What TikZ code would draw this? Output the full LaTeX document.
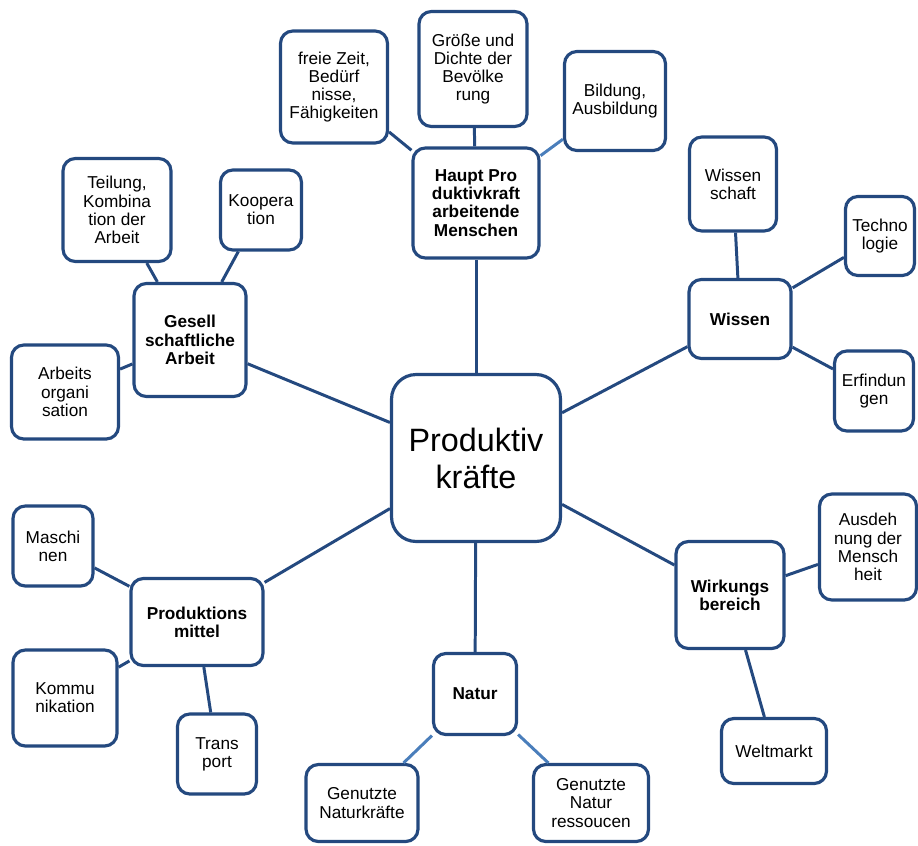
\documentclass[tikz,border=0pt]{standalone}
\usepackage{fontspec}
\setmainfont{Liberation Sans}
\usetikzlibrary{positioning}
\definecolor{mlnavy}{HTML}{24497F}
\definecolor{mllight}{HTML}{4A7EBB}

\begin{document}
\begin{tikzpicture}[
  x=0.02cm, y=-0.02cm,
  bx/.style={draw=mlnavy,line width=1.8pt,rounded corners=7pt,fill=white,
             align=center,inner sep=1pt,
             font=\fontsize{9.8}{10.4}\selectfont},
  hub/.style={bx,font=\fontsize{9.8}{10.4}\selectfont\bfseries},
  core/.style={bx,rounded corners=14pt,font=\fontsize{18.4}{21}\selectfont},
  link/.style={mlnavy,line width=1.7pt},
  lite/.style={mllight,line width=1.7pt}
]
\useasboundingbox (0,0) rectangle (918,845);

% ---- Centre --------------------------------------------------
\node[core,minimum width=3.38cm,minimum height=3.34cm] (pk) at (476,458)
  {Produktiv\\kräfte};

% ---- Hauptproduktivkraft -------------------------------------
\node[hub,minimum width=2.52cm,minimum height=2.20cm] (hp) at (476,203)
  {Haupt Pro\\duktivkraft\\arbeitende\\Menschen};
\node[bx,minimum width=2.16cm,minimum height=2.30cm] (hp1) at (473,69)
  {Größe und\\Dichte der\\Bevölke\\rung};
\node[bx,minimum width=2.14cm,minimum height=2.24cm] (hp2) at (334,87)
  {freie Zeit,\\Bedürf\\nisse,\\Fähigkeiten};
\node[bx,minimum width=2.02cm,minimum height=1.98cm] (hp3) at (615,101)
  {Bildung,\\Ausbildung};

% ---- Gesellschaftliche Arbeit --------------------------------
\node[hub,minimum width=2.24cm,minimum height=2.26cm] (ga) at (190,340)
  {Gesell\\schaftliche\\Arbeit};
\node[bx,minimum width=2.16cm,minimum height=2.06cm] (ga1) at (117,210)
  {Teilung,\\Kombina\\tion der\\Arbeit};
\node[bx,minimum width=1.62cm,minimum height=1.60cm] (ga2) at (261,210)
  {Koopera\\tion};
\node[bx,minimum width=2.14cm,minimum height=1.88cm] (ga3) at (65,392)
  {Arbeits\\organi\\sation};

% ---- Wissen --------------------------------------------------
\node[hub,minimum width=2.04cm,minimum height=1.58cm] (ws) at (740,319)
  {Wissen};
\node[bx,minimum width=1.74cm,minimum height=1.88cm] (ws1) at (733,184)
  {Wissen\\schaft};
\node[bx,minimum width=1.38cm,minimum height=1.58cm] (ws2) at (880,236)
  {Techno\\logie};
\node[bx,minimum width=1.58cm,minimum height=1.60cm] (ws3) at (874,391)
  {Erfindun\\gen};

% ---- Produktionsmittel ---------------------------------------
\node[hub,minimum width=2.64cm,minimum height=1.74cm] (pm) at (197,622)
  {Produktions\\mittel};
\node[bx,minimum width=1.60cm,minimum height=1.60cm] (pm1) at (53,546)
  {Maschi\\nen};
\node[bx,minimum width=2.08cm,minimum height=1.92cm] (pm2) at (65,698)
  {Kommu\\nikation};
\node[bx,minimum width=1.58cm,minimum height=1.60cm] (pm3) at (217,754)
  {Trans\\port};

% ---- Natur ---------------------------------------------------
\node[hub,minimum width=1.66cm,minimum height=1.62cm] (nt) at (475,694)
  {Natur};
\node[bx,minimum width=2.24cm,minimum height=1.54cm] (nt1) at (362,803)
  {Genutzte\\Naturkräfte};
\node[bx,minimum width=2.30cm,minimum height=1.54cm] (nt2) at (591,803)
  {Genutzte\\Natur\\ressoucen};

% ---- Wirkungsbereich -----------------------------------------
\node[hub,minimum width=2.16cm,minimum height=2.14cm] (wb) at (730,595)
  {Wirkungs\\bereich};
\node[bx,minimum width=1.94cm,minimum height=2.12cm] (wb1) at (868,547)
  {Ausdeh\\nung der\\Mensch\\heit};
\node[bx,minimum width=2.10cm,minimum height=1.30cm] (wb2) at (774,751)
  {Weltmarkt};

% Connectors
\begin{scope}[on background layer/.try]
\foreach \a/\b in {pk/hp,pk/ga,pk/ws,pk/pm,pk/nt,pk/wb,
                   hp/hp1,hp/hp2,ga/ga1,ga/ga2,ga/ga3,
                   ws/ws1,ws/ws2,ws/ws3,pm/pm1,pm/pm2,pm/pm3,
                   wb/wb1,wb/wb2}
  \draw[link] (\a) -- (\b);
\foreach \a/\b in {hp/hp3,nt/nt1,nt/nt2}
  \draw[lite] (\a) -- (\b);
\end{scope}

\end{tikzpicture}
\end{document}
